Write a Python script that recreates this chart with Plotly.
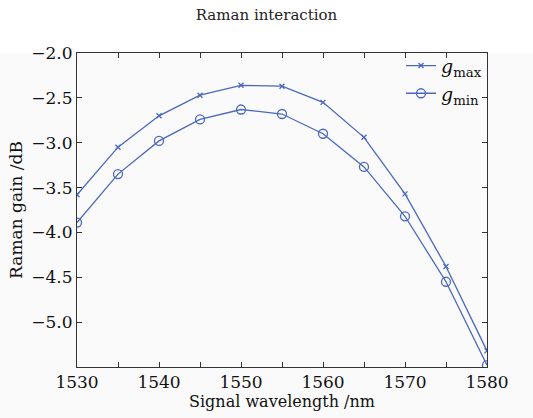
import plotly.graph_objects as go

wavelength = [1530, 1535, 1540, 1545, 1550, 1555, 1560, 1565, 1570, 1575, 1580]
g_max = [-3.58, -3.05, -2.70, -2.47, -2.36, -2.37, -2.55, -2.94, -3.57, -4.38, -5.32]
g_min = [-3.89, -3.35, -2.98, -2.74, -2.63, -2.68, -2.90, -3.27, -3.82, -4.55, -5.48]
y_ticks = [-2.0, -2.5, -3.0, -3.5, -4.0, -4.5, -5.0]
y_labels = ["\u22122.0", "\u22122.5", "\u22123.0", "\u22123.5", "\u22124.0", "\u22124.5", "\u22125.0"]

color = "#4a68bd"
font = "DejaVu Serif, Liberation Serif, serif"

fig = go.Figure()
fig.add_trace(go.Scatter(x=wavelength, y=g_max, mode="lines+markers",
                         name="<i>g</i><sub>max</sub>",
                         line=dict(color=color, width=1.3),
                         marker=dict(symbol="x-thin", size=5, line=dict(color=color, width=1.3))))
fig.add_trace(go.Scatter(x=wavelength, y=g_min, mode="lines+markers",
                         name="<i>g</i><sub>min</sub>",
                         line=dict(color=color, width=1.3),
                         marker=dict(symbol="circle-open", size=9, color=color, line=dict(width=1.3))))

fig.add_shape(type="rect", xref="paper", yref="paper", x0=-0.3, x1=1.2, y0=1.0, y1=1.2,
              fillcolor="white", line=dict(width=0), layer="below")

axis_common = dict(showline=True, linecolor="#333", linewidth=1, mirror="ticks",
                   ticks="inside", ticklen=5, tickcolor="#333", showgrid=False, zeroline=False,
                   tickfont=dict(family=font, size=17, color="#111"))

fig.update_layout(
    width=533, height=418,
    margin=dict(l=77, r=46, t=53, b=45),
    paper_bgcolor="#fafafa", plot_bgcolor="#fafafa",
    title=dict(text="Raman interaction", x=0.5, xanchor="center", y=0.965, yanchor="middle",
               font=dict(family=font, size=15, color="#222")),
    xaxis=dict(range=[1530, 1580], tickvals=[1530, 1540, 1550, 1560, 1570, 1580],
               minor=dict(ticks="inside", ticklen=5, tickcolor="#333", dtick=5, tick0=1530),
               title=dict(text="Signal wavelength /nm", standoff=2,
                          font=dict(family=font, size=16, color="#111")),
               **axis_common),
    yaxis=dict(range=[-5.5, -2.0], tickvals=y_ticks, ticktext=y_labels,
               title=dict(text="Raman gain /dB", standoff=4,
                          font=dict(family=font, size=17, color="#111")),
               **axis_common),
    legend=dict(x=1.0, y=1.02, xanchor="right", yanchor="top", bgcolor="rgba(0,0,0,0)",
                font=dict(family=font, size=19, color="#111"), tracegroupgap=0,
                itemwidth=30),
    showlegend=True,
)

fig.write_html("out.html")
